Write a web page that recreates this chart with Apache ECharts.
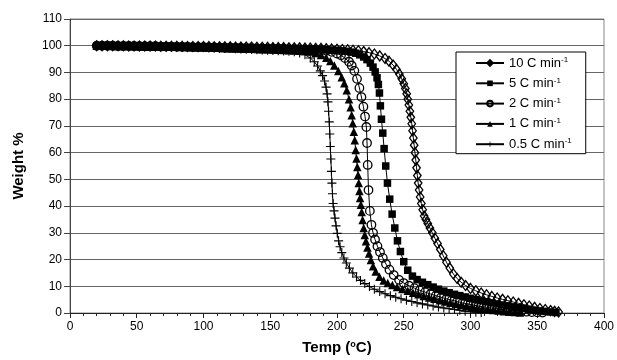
<!DOCTYPE html>
<html><head><meta charset="utf-8">
<script src="https://cdn.jsdelivr.net/npm/echarts@6/dist/echarts.min.js"></script>
<style>html,body{margin:0;padding:0;background:#fff}#c{width:617px;height:360px}</style>
</head><body><div id="c"></div>
<script>
const seriesNames = ['10', '5', '2', '1', '0.5'];
const xTicks = {min: 0, max: 400, interval: 50};
const yTicks = {min: 0, max: 110, interval: 10};

const c10 = [[20,100],[24,100],[28,100],[32,100],[36,100],[40,100],[44,99.9],[48,99.9],[52,99.9],[56,99.9],[60,99.9],[64,99.9],[68,99.8],[72,99.8],[76,99.8],[80,99.8],[84,99.8],[88,99.7],[92,99.7],[96,99.7],[100,99.7],[104,99.7],[108,99.6],[112,99.6],[116,99.6],[120,99.6],[124,99.5],[128,99.5],[132,99.5],[136,99.5],[140,99.4],[144,99.4],[148,99.4],[152,99.3],[156,99.3],[160,99.3],[164,99.2],[168,99.2],[172,99.2],[176,99.1],[180,99.1],[184,99.0],[188,99.0],[192,98.9],[196,98.8],[200,98.7],[204,98.6],[208,98.5],[212,98.3],[216,98.1],[220,97.8],[224,97.4],[228,96.9],[232,96.2],[236,95.2],[239,94.2],[242,92.8],[244.5,91.2],[246.7,89.4],[248.5,87.6],[250,85.8],[251.2,84],[252.2,82],[253,80],[253.8,77.8],[254.6,75.5],[255.3,73.2],[256,70.8],[256.6,68.2],[257.2,65.5],[257.8,62.8],[258.4,60],[259,57.2],[259.6,54.3],[260.2,51.4],[260.8,48.6],[261.5,46],[262.3,43.4],[263.2,41],[264.2,38.6],[265.3,36.3],[266.6,35],[268,33.5],[269.6,31.8],[271.4,30],[273.3,28],[275.3,26],[277.4,23.8],[279.6,21.4],[282,19],[284.5,16.8],[287.2,14.6],[290,12.9],[293,11.5],[296.3,10.3],[300,9.2],[304,8.3],[308,7.5],[312,6.8],[316,6.2],[320,5.6],[324,5.1],[328,4.6],[332,4.1],[336,3.6],[340,3.1],[344,2.6],[348,2.1],[352,1.7],[356,1.3],[360,0.9],[363,0.6],[366,0.4]];

const c5 = [[20,100],[24,100],[28,100],[32,100],[36,100],[40,99.9],[44,99.9],[48,99.9],[52,99.9],[56,99.9],[60,99.8],[64,99.8],[68,99.8],[72,99.8],[76,99.7],[80,99.7],[84,99.7],[88,99.7],[92,99.6],[96,99.6],[100,99.6],[104,99.5],[108,99.5],[112,99.5],[116,99.4],[120,99.4],[124,99.4],[128,99.3],[132,99.3],[136,99.3],[140,99.2],[144,99.2],[148,99.1],[152,99.1],[156,99.0],[160,99.0],[164,98.9],[168,98.9],[172,98.8],[176,98.8],[180,98.7],[184,98.7],[188,98.6],[192,98.5],[196,98.4],[200,98.3],[204,98.1],[208,97.9],[211,97.6],[214,97.2],[217,96.6],[220,95.8],[222.5,94.8],[225,93.5],[227,92],[228.6,90.2],[230,88],[231,85.5],[231.8,82.3],[232.5,77.5],[233.3,72.5],[234.3,67.3],[235.3,61.5],[236.5,55],[237.8,48.6],[239.5,42.6],[241.3,37],[243.3,31.8],[245.3,27],[247.5,23],[250,19.2],[253,16],[256.5,13.8],[260,12.5],[264,11.5],[268,10.6],[272,9.7],[276,8.9],[280,8.2],[284,7.6],[288,7],[292,6.5],[296,6],[300,5.5],[304,5],[308,4.6],[312,4.2],[316,3.8],[320,3.4],[324,3],[328,2.7],[332,2.3],[336,2],[340,1.7],[344,1.4],[348,1.1],[352,0.8],[356,0.6],[360,0.4],[364,0.2]];

const c2 = [[20,100],[24,100],[28,100],[32,100],[36,99.9],[40,99.9],[44,99.9],[48,99.9],[52,99.8],[56,99.8],[60,99.8],[64,99.8],[68,99.7],[72,99.7],[76,99.7],[80,99.6],[84,99.6],[88,99.6],[92,99.5],[96,99.5],[100,99.5],[104,99.4],[108,99.4],[112,99.3],[116,99.3],[120,99.3],[124,99.2],[128,99.2],[132,99.1],[136,99.1],[140,99.0],[144,99.0],[148,98.9],[152,98.9],[156,98.8],[160,98.8],[164,98.7],[168,98.7],[172,98.6],[176,98.6],[180,98.5],[184,98.4],[188,98.3],[192,98.1],[196,97.7],[200,97.1],[203,96.4],[206,95.4],[209,94],[211,92.6],[213,90.6],[215,87.6],[216.8,84.2],[218.3,80.8],[219.8,77.2],[221,73.5],[222,69.6],[222.5,63.6],[223,55.4],[223.6,46],[224.6,38.2],[225.8,33],[227,30],[228.5,27.5],[230.3,25],[232.2,22.8],[234.3,20.6],[236.7,18.3],[239.3,16.2],[242.5,14.2],[246.5,12.4],[250,11.2],[254,10.2],[258,9.3],[262,8.5],[266,7.8],[270,7.1],[274,6.5],[278,5.9],[282,5.3],[286,4.8],[290,4.3],[294,3.8],[298,3.4],[302,3],[306,2.6],[310,2.3],[314,2],[318,1.7],[322,1.4],[326,1.2],[330,1],[334,0.8],[338,0.6],[342,0.5],[346,0.35],[350,0.25],[354,0.15]];

const c1 = [[20,100],[24,100],[28,100],[32,99.9],[36,99.9],[40,99.9],[44,99.9],[48,99.8],[52,99.8],[56,99.8],[60,99.7],[64,99.7],[68,99.7],[72,99.6],[76,99.6],[80,99.6],[84,99.5],[88,99.5],[92,99.4],[96,99.4],[100,99.3],[104,99.3],[108,99.2],[112,99.2],[116,99.1],[120,99.1],[124,99.0],[128,99.0],[132,98.9],[136,98.9],[140,98.8],[144,98.7],[148,98.7],[152,98.6],[156,98.5],[160,98.4],[164,98.3],[168,98.2],[172,98.1],[176,98.0],[180,97.8],[184,97.3],[188,96.5],[192,95.5],[195,94.3],[198,92.6],[201,90.5],[203.5,88.2],[205.5,86],[207.3,83.3],[209,80],[210.2,77],[211,74],[211.8,71],[212.6,67.8],[213.3,64.6],[214,61],[214.6,57.8],[215.2,54.6],[215.8,51.6],[216.3,48.6],[216.8,45.6],[217.3,43],[217.9,40.5],[218.5,37.8],[219.2,34.8],[220,31.8],[220.8,29.2],[221.7,26.8],[222.8,24.5],[224,22.3],[225.4,19.8],[227,17.5],[229,15.5],[231.8,13.6],[235,12.2],[238,11.2],[241.5,10.5],[245,9.7],[249,9],[253,8.3],[257,7.6],[261,7],[265,6.4],[269,5.8],[273,5.3],[277,4.8],[281,4.3],[285,3.8],[289,3.4],[293,3],[297,2.6],[301,2.3],[305,2],[309,1.7],[313,1.4],[317,1.1],[321,0.9],[325,0.7],[329,0.5],[333,0.35],[337,0.2]];

const c05 = [[20,100],[24,100],[28,100],[32,100],[36,99.9],[40,99.9],[44,99.9],[48,99.9],[52,99.8],[56,99.8],[60,99.8],[64,99.7],[68,99.7],[72,99.7],[76,99.6],[80,99.6],[84,99.5],[88,99.5],[92,99.4],[96,99.4],[100,99.3],[104,99.2],[108,99.2],[112,99.1],[116,99.0],[120,99.0],[124,98.9],[128,98.8],[132,98.7],[136,98.6],[140,98.5],[144,98.4],[148,98.3],[152,98.2],[156,98.1],[160,98.0],[164,97.9],[168,97.7],[172,97.3],[176,96.6],[180,95.4],[183,94],[185.5,92.4],[187.5,90.6],[189.2,88.8],[190.7,86.8],[191.8,84.5],[192.6,82],[193.2,79],[193.7,75.5],[194.2,71.5],[194.6,67],[195,62.3],[195.4,57.6],[195.8,53],[196.2,48.6],[196.6,44.6],[197.1,41],[197.8,38.2],[198.5,35.5],[199.3,32.6],[200.2,29.8],[201.2,27],[202.3,24.8],[203.6,22.6],[205.2,20.6],[207,18.7],[209.3,16.8],[211.8,15],[214.6,13.5],[217.6,12.2],[220.8,11],[224.3,9.9],[228,8.9],[232,8],[236,7.2],[240,6.5],[244,5.9],[248,5.3],[252,4.8],[256,4.3],[260,3.8],[264,3.4],[268,3],[272,2.6],[276,2.2],[280,1.9],[284,1.6],[288,1.3],[292,1],[296,0.7],[300,0.5],[304,0.3],[308,0.15]];

const FONT = "'Liberation Sans', Arial, sans-serif";
const plusPath = 'path://M0,4.4H10V5.6H0Z M4.4,0H5.6V10H4.4Z';
const hollow = {color: 'rgba(255,255,255,0)', borderColor: '#000', borderWidth: 1.3};
const solid = {color: '#000', borderColor: '#000', borderWidth: 0};
const styles = [
  {symbol: 'diamond', size: [7.5, 10], item: hollow},
  {symbol: 'rect', size: 7.5, item: solid},
  {symbol: 'circle', size: 8.5, item: hollow},
  {symbol: 'triangle', size: 8.5, item: solid},
  {symbol: plusPath, size: 9, item: solid}
];
const dataSets = [c10, c5, c2, c1, c05];

const chart = echarts.init(document.getElementById('c'));
chart.setOption({
  animation: false,
  backgroundColor: '#fff',
  textStyle: {fontFamily: FONT},
  grid: {left: 70, right: 12, top: 19, bottom: 47, show: true, borderColor: '#888', borderWidth: 1},
  legend: {
    orient: 'vertical', left: 456, top: 52,
    padding: [4, 14, 3, 19],
    itemWidth: 28, itemHeight: 7, itemGap: 6.8,
    backgroundColor: '#fff', borderColor: '#000', borderWidth: 1, borderRadius: 0,
    data: seriesNames,
    formatter: n => '{a|' + n + ' C min}{s|-1}',
    textStyle: {
      color: '#000', fontFamily: FONT,
      rich: {
        a: {fontSize: 13, lineHeight: 14, fontFamily: FONT, color: '#000'},
        s: {fontSize: 8, lineHeight: 14, verticalAlign: 'top', fontFamily: FONT, color: '#000'}
      }
    }
  },
  xAxis: {
    type: 'value', min: xTicks.min, max: xTicks.max, interval: xTicks.interval,
    name: 'Temp ({o|o}C)', nameLocation: 'middle', nameGap: 27,
    nameTextStyle: {fontSize: 15, fontWeight: 'bold', color: '#000', fontFamily: FONT,
      rich: {o: {fontSize: 9, fontWeight: 'bold', verticalAlign: 'top', color: '#000', fontFamily: FONT}}},
    axisLine: {lineStyle: {color: '#222', width: 1}},
    axisTick: {show: true, length: 5, lineStyle: {color: '#222'}},
    minorTick: {show: true, splitNumber: 5, length: 3, lineStyle: {color: '#222'}},
    axisLabel: {fontSize: 12, color: '#000', margin: 8},
    splitLine: {show: false}
  },
  yAxis: {
    type: 'value', min: yTicks.min, max: yTicks.max, interval: yTicks.interval,
    name: 'Weight %', nameLocation: 'middle', nameGap: 44,
    nameTextStyle: {fontSize: 15, fontWeight: 'bold', color: '#000', fontFamily: FONT},
    axisLine: {show: true, lineStyle: {color: '#444', width: 1}},
    axisTick: {show: true, length: 6, lineStyle: {color: '#444'}},
    axisLabel: {fontSize: 12, color: '#000', margin: 8},
    splitLine: {show: true, lineStyle: {color: '#666', width: 1}}
  },
  series: dataSets.map((d, i) => ({
    name: seriesNames[i],
    type: 'line',
    data: d,
    symbol: styles[i].symbol,
    symbolSize: styles[i].size,
    showSymbol: true,
    itemStyle: styles[i].item,
    lineStyle: {color: '#000', width: 1},
    emphasis: {disabled: true},
    z: 2 + i
  }))
});
</script></body></html>
